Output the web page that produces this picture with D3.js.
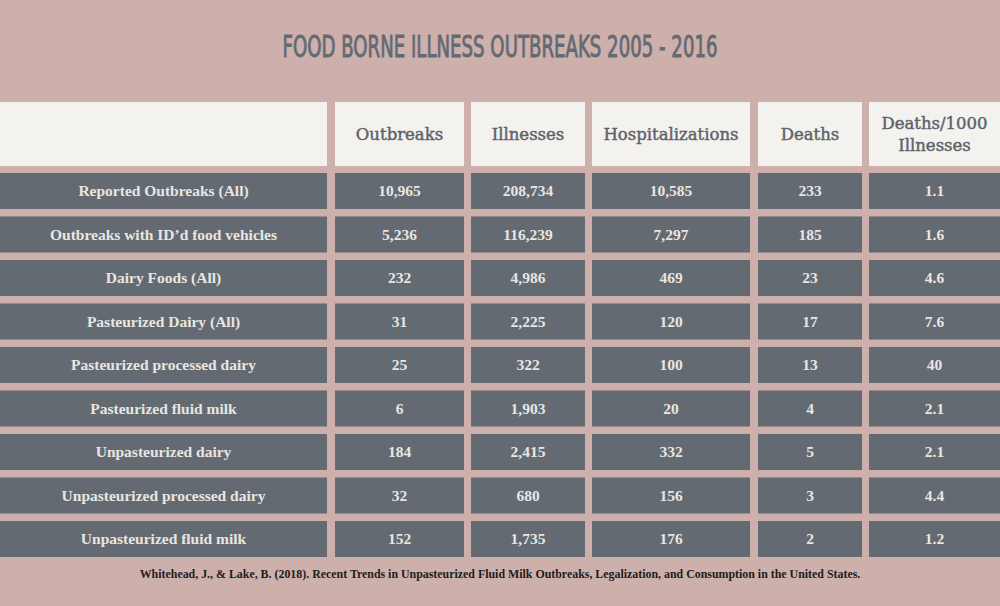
<!DOCTYPE html>
<html>
<head>
<meta charset="utf-8">
<script src="https://cdn.jsdelivr.net/npm/d3@7"></script>
<style>
  html, body { margin: 0; padding: 0; background: #cdb0ab; }
  svg { display: block; }
</style>
</head>
<body>
<script>
// ---- data ----
const title = "FOOD BORNE ILLNESS OUTBREAKS 2005 - 2016";
const columns = ["", "Outbreaks", "Illnesses", "Hospitalizations", "Deaths", "Deaths/1000\nIllnesses"];
const categories = [
  "Reported Outbreaks (All)",
  "Outbreaks with ID\u2019d food vehicles",
  "Dairy Foods (All)",
  "Pasteurized Dairy (All)",
  "Pasteurized processed dairy",
  "Pasteurized fluid milk",
  "Unpasteurized dairy",
  "Unpasteurized processed dairy",
  "Unpasteurized fluid milk"
];
const outbreaks        = [10965, 5236, 232, 31, 25, 6, 184, 32, 152];
const illnesses        = [208734, 116239, 4986, 2225, 322, 1903, 2415, 680, 1735];
const hospitalizations = [10585, 7297, 469, 120, 100, 20, 332, 156, 176];
const deaths           = [233, 185, 23, 17, 13, 4, 5, 3, 2];
const deathsPer1000    = ["1.1", "1.6", "4.6", "7.6", "40", "2.1", "2.1", "4.4", "1.2"];
const source = "Whitehead, J., & Lake, B. (2018). Recent Trends in Unpasteurized Fluid Milk Outbreaks, Legalization, and Consumption in the United States.";

// ---- layout ----
const W = 1000, H = 606;
const colEdges = [[0, 327], [335, 464], [471, 585], [592, 750], [758, 862], [869, 1000]];
const header = { y0: 102, y1: 166 };

const fmt = d3.format(",");
const rows = categories.map((c, i) => [
  c, fmt(outbreaks[i]), fmt(illnesses[i]), fmt(hospitalizations[i]), fmt(deaths[i]), deathsPer1000[i]
]);

const y = d3.scaleBand()
  .domain(d3.range(categories.length))
  .range([173, 557])
  .paddingInner(0.172)
  .paddingOuter(0);

const svg = d3.select("body").append("svg")
  .attr("width", W).attr("height", H);

svg.append("rect").attr("width", W).attr("height", H).attr("fill", "#cdb0ab");

// title
svg.append("text")
  .attr("x", 500).attr("y", 57)
  .attr("text-anchor", "middle")
  .attr("font-family", "'Liberation Sans Narrow', 'DejaVu Sans Condensed', sans-serif")
  .attr("font-size", 30)
  .attr("font-weight", "normal")
  .attr("fill", "#656a72")
  .attr("stroke", "#656a72")
  .attr("stroke-width", 0.9)
  .attr("textLength", 435)
  .attr("lengthAdjust", "spacingAndGlyphs")
  .text(title);

// header cells
const hg = svg.append("g");
colEdges.forEach((e, j) => {
  hg.append("rect")
    .attr("x", e[0]).attr("y", header.y0)
    .attr("width", e[1] - e[0]).attr("height", header.y1 - header.y0)
    .attr("fill", "#f3f2ee");
  const lines = columns[j].split("\n").filter(s => s.length);
  const cx = (e[0] + e[1]) / 2;
  const cy = (header.y0 + header.y1) / 2;
  const lh = 22;
  lines.forEach((ln, k) => {
    hg.append("text")
      .attr("x", cx)
      .attr("y", cy + (k - (lines.length - 1) / 2) * lh)
      .attr("dy", "0.35em")
      .attr("text-anchor", "middle")
      .attr("font-family", "'DejaVu Serif', serif")
      .attr("font-size", 16.5)
      .attr("fill", "#5d636b")
      .attr("stroke", "#5d636b")
      .attr("stroke-width", 0.45)
      .text(ln);
  });
});

// data cells
const rg = svg.append("g").selectAll("g.row")
  .data(rows).join("g").attr("class", "row")
  .attr("transform", (d, i) => `translate(0,${y(i)})`);

colEdges.forEach((e, j) => {
  rg.append("rect")
    .attr("x", e[0]).attr("y", 0)
    .attr("width", e[1] - e[0]).attr("height", y.bandwidth())
    .attr("fill", "#636a72");
  rg.append("text")
    .attr("x", (e[0] + e[1]) / 2)
    .attr("y", y.bandwidth() / 2)
    .attr("dy", "0.35em")
    .attr("text-anchor", "middle")
    .attr("font-family", "'Liberation Serif', serif")
    .attr("font-weight", "bold")
    .attr("font-size", 15.5)
    .attr("fill", "#e9e6e0")
    .text(d => d[j]);
});

// source
svg.append("text")
  .attr("x", 500).attr("y", 578)
  .attr("text-anchor", "middle")
  .attr("font-family", "'Liberation Serif', serif")
  .attr("font-weight", "bold")
  .attr("font-size", 11.9)
  .attr("fill", "#1e1c1c")
  .text(source);
</script>
</body>
</html>
